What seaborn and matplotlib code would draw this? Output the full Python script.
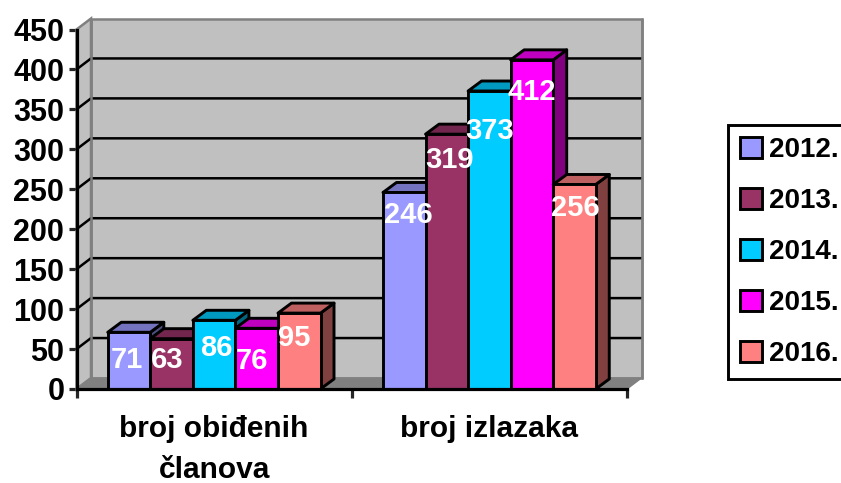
import pandas as pd
import seaborn as sns
from matplotlib import pyplot as plt
from matplotlib.patches import Polygon

# values
categories = ['broj obiđenih\nčlanova', 'broj izlazaka']
years = ['2012.', '2013.', '2014.', '2015.', '2016.']
visited = [71, 63, 86, 76, 95]
outings = [246, 319, 373, 412, 256]

front_colors = ['#9999FF', '#993366', '#00CCFF', '#FF00FF', '#FF8080']
top_colors = ['#7373BF', '#73264D', '#0099BF', '#BF00BF', '#BF6060']
side_colors = ['#4D4D80', '#4D1933', '#006680', '#800080', '#804040']

# label nudges in pixels, the labels do not sit in one fixed place on the bars
label_drop = [[28, 21, 28, 33, 25], [23, 26, 40, 32, 24]]
label_shift = [[-2, -4, 2, -5, -5], [4, 3, 0, 0, 1]]

W, H = 841, 483
px = 72 / 100
FONT = ['Liberation Sans', 'DejaVu Sans']
EDGE = 2.1

sns.set_style('white')
plt.rcParams['font.family'] = FONT
plt.rcParams['font.weight'] = 'bold'

df = pd.DataFrame({
    'category': [categories[0]] * 5 + [categories[1]] * 5,
    'year': years + years,
    'value': visited + outings,
})

fig = plt.figure(figsize=(W / 100, H / 100), dpi=100)
ax = fig.add_axes([76.5 / W, (H - 389) / H, 550.5 / W, 359.5 / H])

sns.barplot(data=df, x='category', y='value', hue='year', order=categories,
            hue_order=years, palette=front_colors, saturation=1, width=0.773,
            gap=0, edgecolor='black', linewidth=EDGE, ax=ax)
ax.set_xlim(-0.5, 1.5)
ax.set_ylim(0, 450)
ax.set_xlabel('')
ax.set_ylabel('')

# pixel depth of the fake 3d, turned into data units
x_unit = 2 / 550.5
y_unit = 450 / 359.5
wall_dx, wall_dy = 14.5 * x_unit, 11 * y_unit
bar_dx, bar_dy = 13.5 * x_unit, 10 * y_unit

# walls and floor
ax.add_patch(Polygon([(-0.5 + wall_dx, wall_dy), (1.5 + wall_dx, wall_dy),
                      (1.5 + wall_dx, 450 + wall_dy), (-0.5 + wall_dx, 450 + wall_dy)],
                     fc='#C0C0C0', ec='#808080', lw=1.8, clip_on=False, zorder=0.5))
ax.add_patch(Polygon([(-0.5, 0), (-0.5 + wall_dx, wall_dy),
                      (-0.5 + wall_dx, 450 + wall_dy), (-0.5, 450)],
                     fc='#C0C0C0', ec='#808080', lw=1.8, clip_on=False, zorder=0.6))
ax.add_patch(Polygon([(-0.5, 0), (1.5, 0), (1.5 + wall_dx, wall_dy), (-0.5 + wall_dx, wall_dy)],
                     fc='#808080', ec='#808080', lw=1, clip_on=False, zorder=0.7))
for tick in range(50, 450, 50):
    ax.plot([-0.5, -0.5 + wall_dx, 1.5 + wall_dx], [tick, tick + wall_dy, tick + wall_dy],
            color='black', lw=1.8, clip_on=False, zorder=0.8)
ax.plot([-0.5 + wall_dx] * 2, [wall_dy, 450 + wall_dy], color='#808080', lw=1.8,
        clip_on=False, zorder=0.9)
ax.plot([1.5 + wall_dx] * 2, [wall_dy, 450 + wall_dy], color='#808080', lw=1.8,
        clip_on=False, zorder=0.9)

# top and side faces on the bars seaborn drew
for i, container in enumerate(ax.containers):
    for j, bar in enumerate(container.patches):
        x0, x1 = bar.get_x(), bar.get_x() + bar.get_width()
        top = bar.get_height()
        z = 3 + i
        bar.set_zorder(z + 0.2)
        ax.add_patch(Polygon([(x1, 0), (x1 + bar_dx, bar_dy), (x1 + bar_dx, top + bar_dy), (x1, top)],
                             fc=side_colors[i], ec='black', lw=EDGE, clip_on=False,
                             joinstyle='round', zorder=z))
        ax.add_patch(Polygon([(x0, top), (x0 + bar_dx, top + bar_dy), (x1 + bar_dx, top + bar_dy), (x1, top)],
                             fc=top_colors[i], ec='black', lw=EDGE, clip_on=False,
                             joinstyle='round', zorder=z + 0.1))
        ax.annotate(str(int(top)), xy=((x0 + x1) / 2, top),
                    xytext=(label_shift[j][i] * px, -label_drop[j][i] * px),
                    textcoords='offset points', ha='center', va='center',
                    color='white', fontsize=21, fontweight='bold', zorder=20)

# axes
sns.despine(ax=ax)
for side in ['left', 'bottom']:
    ax.spines[side].set_linewidth(2.3)
    ax.spines[side].set_color('black')
    ax.spines[side].set_zorder(15)
ax.set_yticks(range(0, 500, 50))
ax.tick_params(axis='y', length=8 * px, width=2.3, pad=3, labelsize=22, labelcolor='black', left=True)
ax.set_xticks([-0.5, 0.5, 1.5], minor=True)
ax.set_xticks([0, 1], categories)
ax.tick_params(axis='x', which='minor', length=9 * px, width=2.3, bottom=True)
ax.tick_params(axis='x', which='major', length=0, pad=18.5, labelsize=21.5, labelcolor='black')
for label in ax.get_xticklabels():
    label.set_linespacing(1.62)

# legend, its box runs off the right edge like in the original
handles, labels = ax.get_legend_handles_labels()
leg = ax.legend(handles, labels, loc='upper left', bbox_to_anchor=(728 / W, 1 - 125.5 / H),
                bbox_transform=fig.transFigure, fontsize=20, frameon=True, fancybox=False,
                edgecolor='black', framealpha=1, borderpad=0.42, borderaxespad=0,
                handlelength=0.79, handleheight=0.79, handletextpad=0.27, labelspacing=0.89,
                labelcolor='black')
leg.get_frame().set_linewidth(EDGE)
leg.set_zorder(30)

fig.savefig('out.png', dpi=100)
